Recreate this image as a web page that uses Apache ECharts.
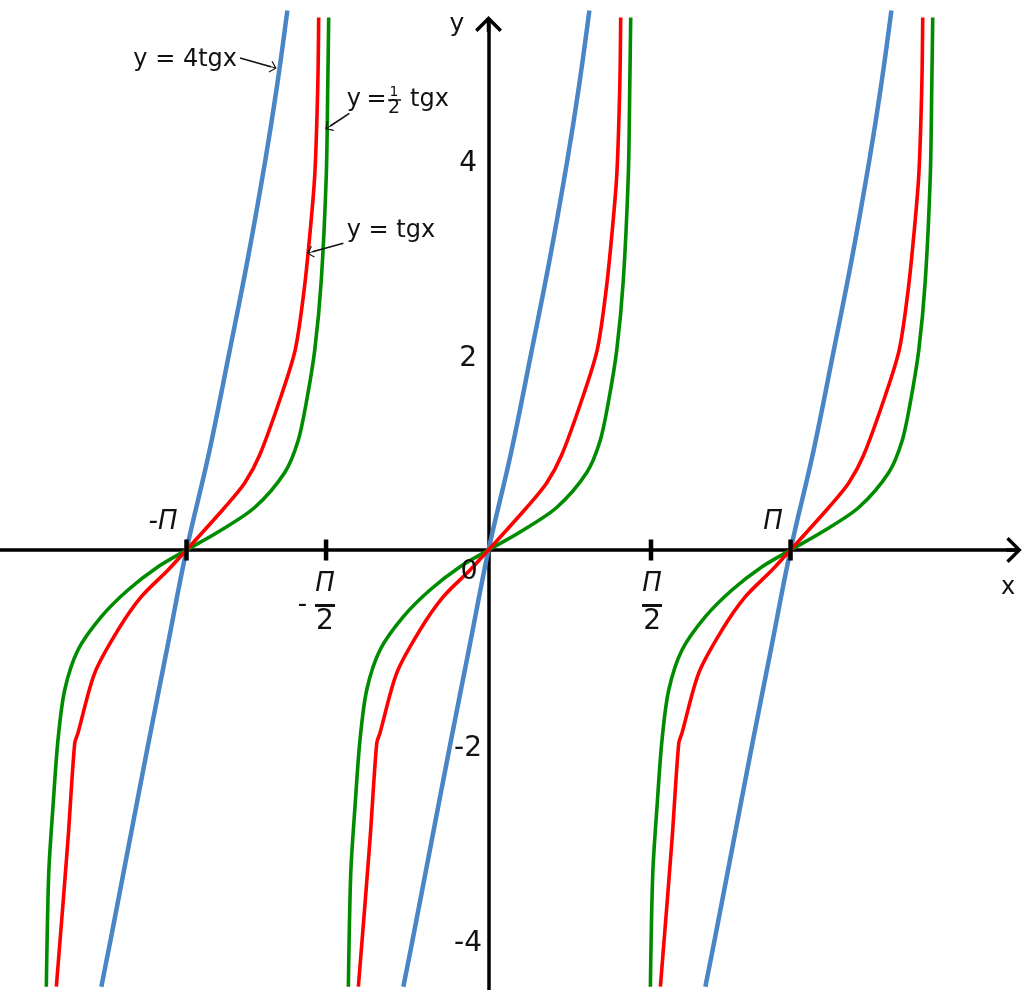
<!DOCTYPE html>
<html><head><meta charset="utf-8">
<script src="https://cdn.jsdelivr.net/npm/echarts@6/dist/echarts.min.js"></script>
<style>html,body{margin:0;padding:0;background:#fff}#c{width:1024px;height:990px}</style>
</head><body><div id="c"></div>
<script>
// ---------- data (x in radians, y in function units) ----------
const curveNames = ['y = 4tgx', 'y = tgx', 'y = 1/2 tgx'];
const branchCenters = [-3.1416, 0, 3.1416];           // zero crossings of the branches
// one branch of each curve, points relative to its zero crossing, bottom to top
const blueBranch = [[-0.886,-4.479],[-0.79,-4.0],[-0.595,-3.0],[-0.40,-2.0],[-0.20,-1.0],[0,0],[0.235,1.0],[0.44,2.0],[0.64,3.0],[0.82,4.0],[0.94,4.75],[1.049,5.533]];
const redBranch = [[-1.354,-4.479],[-1.233,-2.974],[-1.163,-1.983],[-1.129,-1.877],[-0.955,-1.262],[-0.713,-0.821],[-0.470,-0.479],[-0.192,-0.205],[0,0],[0.397,0.436],[0.605,0.687],[0.761,0.974],[0.986,1.585],[1.13,2.05],[1.215,2.6],[1.27,3.1],[1.334,3.846],[1.365,4.743],[1.375,5.462]];
const greenBranch = [[-1.458,-4.479],[-1.433,-3.313],[-1.389,-2.633],[-1.337,-1.949],[-1.267,-1.436],[-1.129,-1.026],[-0.886,-0.684],[-0.609,-0.410],[-0.296,-0.171],[0,0],[0.328,0.185],[0.709,0.436],[1.022,0.795],[1.160,1.118],[1.246,1.513],[1.334,2.051],[1.402,2.769],[1.454,3.846],[1.469,4.743],[1.479,5.462]];
const xTickValues = [-3.1416, -1.69, 1.69, 3.1416];
const yTickValues = [-4, -2, 2, 4];
const piText = 'Π';
const halfDen = '2';

// ---------- chart building ----------
const FONT = 'DejaVu Sans';
const axisArrow = 'path://M0,13.5L13.5,0L27,13.5L24.5,16L15.25,6.75L15.25,16L11.75,16L11.75,6.75L2.5,16Z';
const smallArrow = 'path://M0,10L10,0L20,10L18.6,11.4L10.7,3.5L10.7,20L9.3,20L9.3,3.5L1.4,11.4Z';

function shift(branch, c) { return branch.map(p => [p[0] + c, p[1]]); }

const curves = [
  { data: blueBranch, color: '#4a86c6', width: 4.5, name: curveNames[0], smooth: 0.4 },
  { data: greenBranch, color: '#008c00', width: 3.6, name: curveNames[2], smooth: 0.3 },
  { data: redBranch, color: '#ff0000', width: 3.6, name: curveNames[1], smooth: 0.3 }
];

const series = [];
curves.forEach(cv => {
  branchCenters.forEach(c => {
    series.push({
      type: 'line', name: cv.name, data: shift(cv.data, c),
      showSymbol: false, symbol: 'none', smooth: cv.smooth, clip: false,
      lineStyle: { color: cv.color, width: cv.width }, z: 3
    });
  });
});

// tick marks on the x axis
series.push({
  type: 'scatter', symbol: 'rect', symbolSize: [4.5, 21],
  itemStyle: { color: '#000', opacity: 1 }, z: 5,
  data: xTickValues.map(v => [v, 0])
});

// y axis tick labels (left of the axis)
series.push({
  type: 'scatter', symbolSize: 1, itemStyle: { color: 'rgba(0,0,0,0)', opacity: 1 }, z: 6, silent: true,
  data: yTickValues.map(v => ({
    value: [-0.213, v],
    label: { show: true, formatter: String(v), position: 'inside', align: 'center', verticalAlign: 'middle',
      offset: [0, 4], fontSize: 28, fontFamily: FONT, color: '#111' }
  }))
});

// text annotations: [text, x, y, align, size, italic]
const place = [
  [curveNames[0], -2.616, 5.026, 'right', 24, false],
  ['y', -1.475, 4.615, 'left', 24, false],
  ['=', -1.270, 4.615, 'left', 24, false],
  ['1', -0.983, 4.697, 'center', 14, false],
  [halfDen, -0.983, 4.533, 'center', 19, false],
  ['tgx', -0.817, 4.615, 'left', 24, false],
  [curveNames[1], -1.475, 3.272, 'left', 24, false],
  ['-' + piText, -3.386, 0.287, 'center', 26, true],
  [piText, 2.959, 0.287, 'center', 26, true],
  ['-', -1.935, -0.564, 'center', 26, false],
  [piText, -1.701, -0.349, 'center', 26, true],
  [halfDen, -1.701, -0.738, 'center', 28, false],
  [piText, 1.701, -0.349, 'center', 26, true],
  [halfDen, 1.701, -0.738, 'center', 28, false],
  ['0', -0.203, -0.226, 'center', 27, false],
  ['x', 5.404, -0.390, 'center', 24, false],
  ['y', -0.328, 5.385, 'center', 25, false]
];
series.push({
  type: 'scatter', symbolSize: 1, itemStyle: { color: 'rgba(0,0,0,0)', opacity: 1 }, z: 6, silent: true,
  data: place.map(p => ({
    value: [p[1], p[2]],
    label: {
      show: true, formatter: p[0], position: 'inside', align: p[3], verticalAlign: 'middle',
      fontSize: p[4], fontStyle: p[5] ? 'italic' : 'normal', fontFamily: FONT, color: '#111'
    }
  }))
});

// annotation arrows
series.push({
  type: 'lines', coordinateSystem: 'cartesian2d', polyline: false, z: 6, silent: true,
  symbol: ['none', smallArrow], symbolSize: 12,
  lineStyle: { color: '#111', width: 1.6, opacity: 1, curveness: 0 },
  data: [
    { coords: [[-2.585, 5.046], [-2.264, 4.957]] },
    { coords: [[-1.448, 4.479], [-1.646, 4.349]] },
    { coords: [[-1.510, 3.146], [-1.831, 3.059]] }
  ]
});
// fraction bars
series.push({
  type: 'lines', coordinateSystem: 'cartesian2d', polyline: false, z: 6, silent: true,
  symbol: 'none',
  lineStyle: { color: '#111', width: 2.8, opacity: 1, curveness: 0 },
  data: [
    { coords: [[-1.805, -0.564], [-1.597, -0.564]] },
    { coords: [[1.597, -0.564], [1.805, -0.564]] },
    { coords: [[-1.045, 4.621], [-0.910, 4.621]], lineStyle: { width: 1.5 } }
  ]
});

const option = {
  animation: false,
  backgroundColor: '#fff',
  grid: { left: 0, right: 10, top: 24, bottom: 0, containLabel: false, outerBoundsMode: 'none' },
  xAxis: {
    type: 'value', min: -5.0817, max: 5.466,
    axisLine: { onZero: true, lineStyle: { color: '#000', width: 3.5 }, symbol: ['none', axisArrow], symbolSize: [26, 16] },
    axisTick: { show: false }, axisLabel: { show: false }, splitLine: { show: false }
  },
  yAxis: {
    type: 'value', min: -4.5128, max: 5.395,
    axisLine: { onZero: true, lineStyle: { color: '#000', width: 3.5 }, symbol: ['none', axisArrow], symbolSize: [27, 16] },
    axisTick: { show: false }, splitLine: { show: false }, axisLabel: { show: false }
  },
  series: series
};

const chart = echarts.init(document.getElementById('c'), null, { renderer: 'canvas' });
chart.setOption(option);
</script>
</body></html>
